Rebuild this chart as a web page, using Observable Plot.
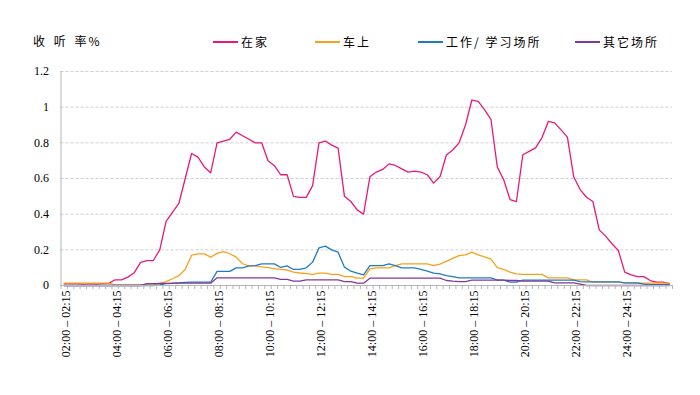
<!DOCTYPE html>
<html><head><meta charset="utf-8">
<script src="https://cdn.jsdelivr.net/npm/d3@7"></script>
<script src="https://cdn.jsdelivr.net/npm/@observablehq/plot@0.6"></script>
<style>
body{margin:0;background:#fff;}
#wrap{position:relative;width:700px;height:395px;overflow:hidden;font-family:"Noto Sans CJK SC",sans-serif;}
#head{position:relative;height:60px;}
.t{position:absolute;font-size:12px;letter-spacing:2px;color:#000;line-height:14px;white-space:pre;}
.sw{position:absolute;height:2px;width:25px;}
</style></head><body>
<div id="wrap"><div id="head"></div><div id="chart"></div></div>
<script>
// ---- data ----
const title = "收 听 率%";
const seriesNames = ["在家", "车上", "工作/ 学习场所", "其它场所"];
const colors = ["#E8197D", "#F9A11B", "#1F7CC1", "#84399A"];
const yTicks = [0, 0.2, 0.4, 0.6, 0.8, 1, 1.2];
const tickLabels = ["02:00 – 02:15","04:00 – 04:15","06:00 – 06:15","08:00 – 08:15","10:00 – 10:15","12:00 – 12:15",
                    "14:00 – 14:15","16:00 – 16:15","18:00 – 18:15","20:00 – 20:15","22:00 – 22:15","24:00 – 24:15"];
// 96 quarter-hour slots, 02:00 to 26:00
const pad = n => String(n).padStart(2, "0");
const slots = d3.range(96).map(i => {
  const a = 120 + i * 15, b = a + 15;
  return `${pad(Math.floor(a / 60))}:${pad(a % 60)} – ${pad(Math.floor(b / 60))}:${pad(b % 60)}`;
});
const home = [0.01,0.01,0.01,0.008,0.01,0.008,0.01,0.012,0.032,0.032,
 0.047,0.072,0.13,0.14,0.14,0.2,0.36,0.41,0.46,0.6,
 0.74,0.72,0.665,0.632,0.8,0.81,0.82,0.86,0.84,0.82,
 0.8,0.8,0.7,0.672,0.621,0.621,0.5,0.494,0.494,0.56,
 0.8,0.81,0.787,0.77,0.5,0.471,0.424,0.4,0.61,0.636,
 0.651,0.682,0.673,0.654,0.636,0.641,0.636,0.621,0.574,0.61,
 0.732,0.76,0.8,0.9,1.04,1.032,0.985,0.931,0.664,0.593,
 0.482,0.471,0.733,0.752,0.772,0.828,0.92,0.912,0.873,0.832,
 0.608,0.538,0.495,0.471,0.312,0.277,0.234,0.196,0.075,0.06,
 0.05,0.05,0.028,0.019,0.019,0.01];
const car = [0.013,0.013,0.013,0.013,0.013,0.013,0.013,0.013,0.003,0.003,
 0.003,0.003,0.003,0.003,0.003,0.012,0.022,0.038,0.055,0.09,
 0.17,0.177,0.177,0.159,0.18,0.19,0.178,0.159,0.122,0.11,
 0.11,0.105,0.1,0.095,0.09,0.087,0.075,0.07,0.067,0.062,
 0.069,0.069,0.062,0.062,0.05,0.05,0.041,0.041,0.093,0.099,
 0.099,0.099,0.112,0.121,0.121,0.121,0.121,0.121,0.112,0.12,
 0.135,0.152,0.168,0.172,0.187,0.172,0.16,0.148,0.1,0.09,
 0.075,0.065,0.062,0.062,0.062,0.062,0.043,0.043,0.043,0.043,
 0.032,0.032,0.032,0.019,0.019,0.019,0.019,0.019,0.015,0.013,
 0.013,0.013,0.013,0.013,0.013,0.013];
const work = [0,0,0,0,0,0,0,0,0,0,
 0,0,0,0,0,0.003,0.01,0.012,0.015,0.018,
 0.019,0.019,0.019,0.019,0.079,0.079,0.079,0.099,0.099,0.11,
 0.112,0.121,0.121,0.121,0.101,0.11,0.09,0.09,0.099,0.131,
 0.211,0.221,0.2,0.187,0.103,0.08,0.069,0.06,0.112,0.112,
 0.112,0.121,0.112,0.099,0.099,0.099,0.09,0.08,0.069,0.065,
 0.055,0.05,0.043,0.043,0.043,0.043,0.043,0.043,0.03,0.03,
 0.019,0.019,0.03,0.03,0.03,0.03,0.03,0.03,0.03,0.03,
 0.03,0.022,0.02,0.02,0.02,0.02,0.02,0.02,0.015,0.015,
 0.015,0.008,0.005,0.005,0.005,0.005];
const other = [0,0,0,0,0,0,0,0,0,0,
 0,0,0,0.01,0.01,0.012,0.012,0.013,0.013,0.013,
 0.013,0.013,0.013,0.013,0.043,0.043,0.043,0.043,0.043,0.043,
 0.043,0.043,0.043,0.043,0.034,0.034,0.024,0.024,0.032,0.032,
 0.032,0.032,0.032,0.032,0.022,0.022,0.013,0.013,0.041,0.041,
 0.041,0.041,0.041,0.041,0.041,0.041,0.041,0.041,0.041,0.041,
 0.028,0.024,0.022,0.022,0.03,0.03,0.03,0.03,0.03,0.03,
 0.028,0.028,0.025,0.025,0.025,0.025,0.025,0.015,0.015,0.015,
 0.015,0.008,0,0,0,0,0,0,0,0,
 0,0,0,0,0,0];
const seriesValues = [home, car, work, other];

// ---- header (title + legend) ----
const head = document.getElementById("head");
const tEl = document.createElement("div");
tEl.className = "t"; tEl.textContent = title;
tEl.style.left = "33px"; tEl.style.top = "34px"; tEl.style.wordSpacing = "2px";
head.appendChild(tEl);
const legX = [213, 315, 418, 575];
seriesNames.forEach((n, s) => {
  const sw = document.createElement("div");
  sw.className = "sw"; sw.style.background = colors[s];
  sw.style.left = legX[s] + "px"; sw.style.top = "41px";
  head.appendChild(sw);
  const lb = document.createElement("div");
  lb.className = "t"; lb.textContent = n;
  lb.style.left = (legX[s] + 28) + "px"; lb.style.top = "35px";
  head.appendChild(lb);
});

// ---- chart ----
const rows = [];
seriesNames.forEach((name, s) => seriesValues[s].forEach((v, i) => rows.push({slot: slots[i], idx: i, name, v})));
const boundaries = d3.range(97).map(k => k - 0.5);
const labelIdx = tickLabels.map(l => slots.indexOf(l));

const chart = Plot.plot({
  width: 700, height: 335,
  marginLeft: 60.5, marginRight: 28, marginTop: 11, marginBottom: 110,
  x: {domain: [-0.5, 95.5], axis: null},
  y: {domain: [0, 1.2], axis: null},
  color: {domain: seriesNames, range: colors},
  style: {fontFamily: "'Liberation Serif', serif", fontSize: "11px", color: "#000", background: "#fff"},
  marks: [
    Plot.gridY(yTicks.slice(1), {stroke: "#cfcfcf", strokeOpacity: 1, strokeDasharray: "3,2"}),
    Plot.axisY(yTicks, {label: null, tickSize: 0, tickPadding: 12, tickFormat: d => String(d), fontSize: 12, style: {letterSpacing: "2.5px"}}),
    Plot.lineY(rows, {x: "idx", y: "v", stroke: "name", strokeWidth: 1.3}),
    Plot.frame({anchor: "left", stroke: "#b5b5b5"}),
    Plot.frame({anchor: "bottom", stroke: "#b5b5b5"}),
    Plot.axisX(boundaries, {label: null, tickSize: 4, tickFormat: () => "", stroke: "#b5b5b5"}),
    Plot.axisX(labelIdx, {label: null, tickSize: 0, tickRotate: -90, tickPadding: 5, dx: 2, tickFormat: i => slots[i], fontSize: 12, style: {letterSpacing: "2.6px"}})
  ]
});
document.getElementById("chart").appendChild(chart);
</script>
</body></html>
